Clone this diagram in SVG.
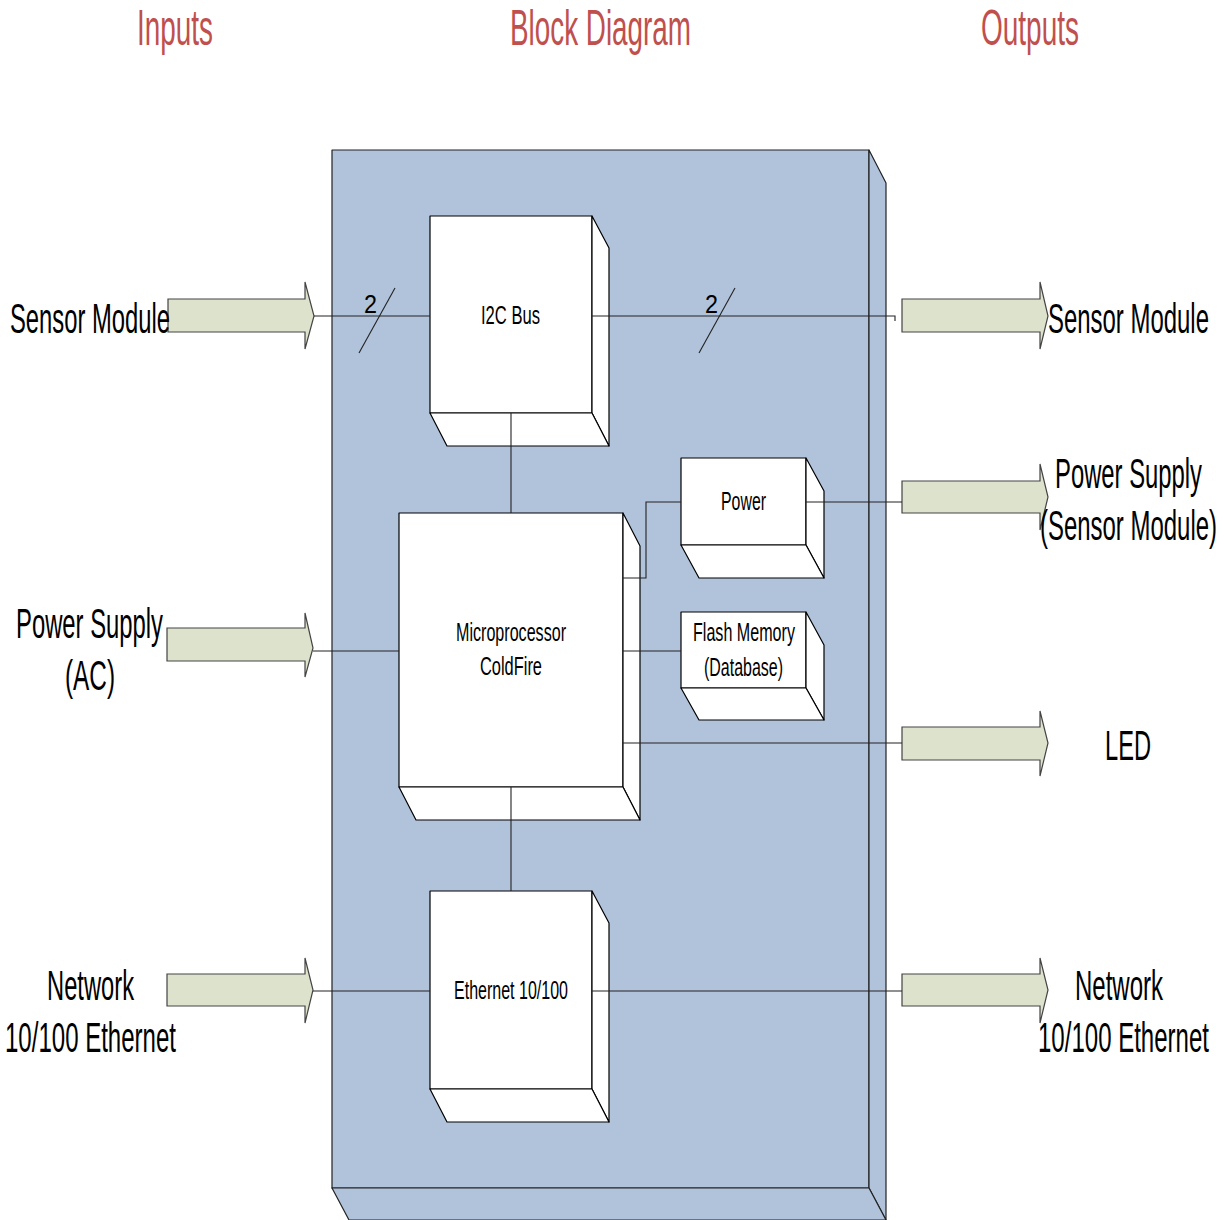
<svg xmlns="http://www.w3.org/2000/svg" width="1229" height="1220" viewBox="0 0 1229 1220">
<style>
.title{font-family:"Liberation Sans",Arial,sans-serif;font-size:50px;fill:#C0504D}
.lbl{font-family:"Liberation Sans",Arial,sans-serif;font-size:42px;fill:#000}
.r{text-anchor:end}
.in{font-family:"Liberation Sans",Arial,sans-serif;font-size:25px;fill:#000}
.box{fill:#fff;stroke:#000;stroke-width:1.2;stroke-linejoin:round}
.main{fill:#B0C3DB;stroke:#222;stroke-width:1.2;stroke-linejoin:round}
.arr{fill:#DDE2CC;stroke:#444;stroke-width:1.2}
.con{fill:none;stroke:#222;stroke-width:1.1}
</style>
<rect width="1229" height="1220" fill="#fff"/>
<g id="titles">
<text class="title" x="137" y="45" textLength="76" lengthAdjust="spacingAndGlyphs">Inputs</text>
<text class="title" x="510" y="45" textLength="181" lengthAdjust="spacingAndGlyphs">Block Diagram</text>
<text class="title r" x="1079" y="45" textLength="98" lengthAdjust="spacingAndGlyphs">Outputs</text>
</g>
<g id="main-box">
<rect class="main" x="332" y="150" width="537" height="1038"/>
<polygon class="main" points="869,150 886,183 886,1220 869,1188"/>
<polygon class="main" points="332,1188 869,1188 886,1220 349,1220"/>
</g>
<g id="i2c">
<rect class="box" x="430" y="216" width="162" height="197"/>
<polygon class="box" points="592,216 609,248 609,446 592,413"/>
<polygon class="box" points="430,413 592,413 609,446 447,446"/>
<text class="in" x="481" y="324" textLength="59" lengthAdjust="spacingAndGlyphs">I2C Bus</text>
</g>
<g id="micro">
<rect class="box" x="399" y="513" width="224" height="274"/>
<polygon class="box" points="623,513 640,546 640,820 623,787"/>
<polygon class="box" points="399,787 623,787 640,820 416,820"/>
<text class="in" x="456" y="641" textLength="110" lengthAdjust="spacingAndGlyphs">Microprocessor</text>
<text class="in" x="480" y="675" textLength="62" lengthAdjust="spacingAndGlyphs">ColdFire</text>
</g>
<g id="power">
<rect class="box" x="681" y="458" width="125" height="87"/>
<polygon class="box" points="806,458 824,491 824,578 806,545"/>
<polygon class="box" points="681,545 806,545 824,578 699,578"/>
<text class="in" x="721" y="510" textLength="45" lengthAdjust="spacingAndGlyphs">Power</text>
</g>
<g id="flash">
<rect class="box" x="681" y="612" width="125" height="76"/>
<polygon class="box" points="806,612 824,645 824,720 806,688"/>
<polygon class="box" points="681,688 806,688 824,720 699,720"/>
<text class="in" x="693" y="641" textLength="102" lengthAdjust="spacingAndGlyphs">Flash Memory</text>
<text class="in" x="704" y="676" textLength="79" lengthAdjust="spacingAndGlyphs">(Database)</text>
</g>
<g id="ethernet">
<rect class="box" x="430" y="891" width="162" height="198"/>
<polygon class="box" points="592,891 609,923 609,1122 592,1089"/>
<polygon class="box" points="430,1089 592,1089 609,1122 447,1122"/>
<text class="in" x="454" y="999" textLength="114" lengthAdjust="spacingAndGlyphs">Ethernet 10/100</text>
</g>
<g id="input-arrows">
<path class="arr" d="M168,299 L305,299 L305,282 L314,316 L305,349 L305,332 L168,332 Z"/>
<path class="arr" d="M167,628 L305,628 L305,613 L313,648 L305,677 L305,661 L167,661 Z"/>
<path class="arr" d="M167,974 L305,974 L305,958 L313,990 L305,1023 L305,1006 L167,1006 Z"/>
</g>
<g id="output-arrows">
<path class="arr" d="M902,299 L1040,299 L1040,282 L1048,316 L1040,349 L1040,332 L902,332 Z"/>
<path class="arr" d="M902,481 L1040,481 L1040,464 L1048,497 L1040,530 L1040,513 L902,513 Z"/>
<path class="arr" d="M902,727 L1040,727 L1040,711 L1048,743 L1040,776 L1040,760 L902,760 Z"/>
<path class="arr" d="M902,974 L1040,974 L1040,958 L1048,990 L1040,1023 L1040,1006 L902,1006 Z"/>
</g>
<g id="labels">
<text class="lbl" x="10" y="333" textLength="160" lengthAdjust="spacingAndGlyphs">Sensor Module</text>
<text class="lbl" x="16" y="638" textLength="147" lengthAdjust="spacingAndGlyphs">Power Supply</text>
<text class="lbl" x="65" y="690" textLength="50" lengthAdjust="spacingAndGlyphs">(AC)</text>
<text class="lbl" x="47" y="1000" textLength="87" lengthAdjust="spacingAndGlyphs">Network</text>
<text class="lbl" x="5" y="1052" textLength="171" lengthAdjust="spacingAndGlyphs">10/100 Ethernet</text>
<text class="lbl r" x="1209" y="333" textLength="161" lengthAdjust="spacingAndGlyphs">Sensor Module</text>
<text class="lbl r" x="1202" y="488" textLength="147" lengthAdjust="spacingAndGlyphs">Power Supply</text>
<text class="lbl r" x="1217" y="540" textLength="177" lengthAdjust="spacingAndGlyphs">(Sensor Module)</text>
<text class="lbl r" x="1151" y="760" textLength="46" lengthAdjust="spacingAndGlyphs">LED</text>
<text class="lbl r" x="1163" y="1000" textLength="88" lengthAdjust="spacingAndGlyphs">Network</text>
<text class="lbl r" x="1209" y="1052" textLength="171" lengthAdjust="spacingAndGlyphs">10/100 Ethernet</text>
</g>
<g id="connectors">
<path class="con" d="M314,316 L430,316"/>
<path class="con" d="M359,353 L395,288"/>
<text class="in" x="364" y="313" textLength="13" lengthAdjust="spacingAndGlyphs">2</text>
<path class="con" d="M592,316 L895,316 L895,321"/>
<path class="con" d="M699,353 L735,288"/>
<text class="in" x="705" y="313" textLength="13" lengthAdjust="spacingAndGlyphs">2</text>
<path class="con" d="M511,413 L511,513"/>
<path class="con" d="M623,578 L646,578 L646,502 L681,502"/>
<path class="con" d="M806,502 L902,502"/>
<path class="con" d="M623,651 L681,651"/>
<path class="con" d="M623,743 L902,743"/>
<path class="con" d="M313,651 L399,651"/>
<path class="con" d="M511,787 L511,891"/>
<path class="con" d="M313,991 L430,991"/>
<path class="con" d="M592,991 L902,991"/>
</g>
</svg>
